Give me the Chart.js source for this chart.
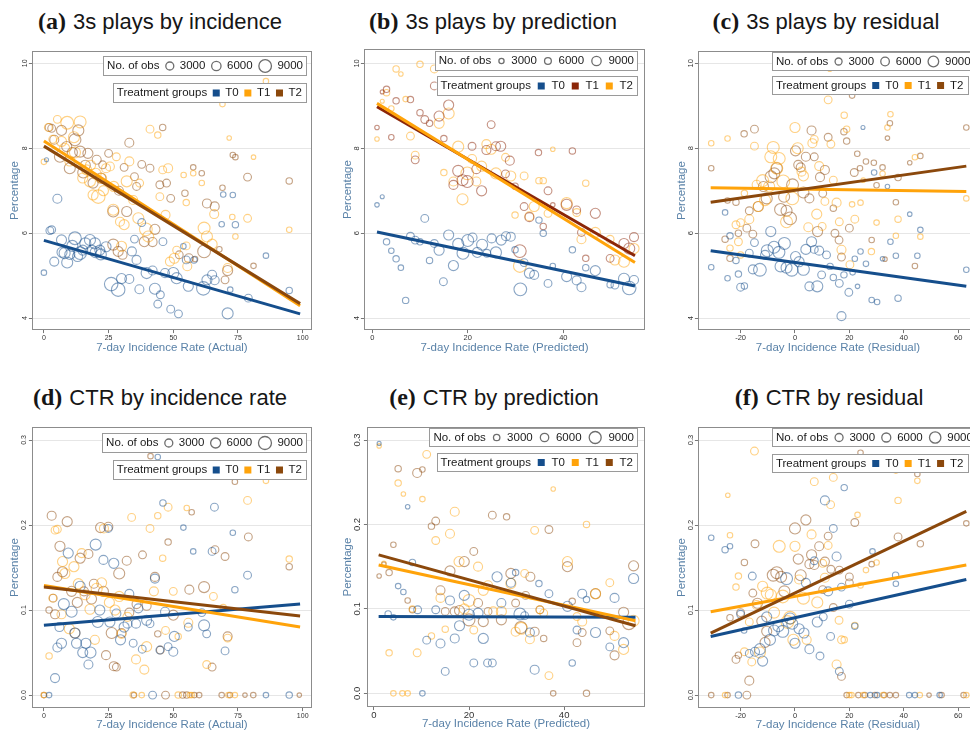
<!DOCTYPE html>
<html><head><meta charset="utf-8">
<script src="https://cdn.jsdelivr.net/npm/chart.js@4"></script>
<style>
html,body{margin:0;padding:0;background:#fff}
body{width:970px;height:734px;overflow:hidden;position:relative}
canvas{position:absolute}
.ttl{position:absolute;transform:translate(-50%,-50%);white-space:nowrap;font-family:'Liberation Sans',sans-serif;font-size:22px;color:#161616;line-height:26px}
.ttl b{font-family:'Liberation Serif',serif;font-weight:bold;font-size:24px;margin-right:7px}
</style></head><body>
<script>
// ---------- tick values / labels ----------
const X_TICKS_ACT = [0,25,50,75,100];
const X_TICKS_PRED = [0,20,40];
const X_TICKS_RES = [-20,0,20,40,60];
const Y_TICKS_PLAYS = [4,6,8,10];
const Y_LABELS_PLAYS = ['4','6','8','10'];
const Y_TICKS_CTR = [0,0.1,0.2,0.3];
const Y_LABELS_CTR = ['0.0','0.1','0.2','0.3'];
const GROUPS = ['T0','T1','T2'];
const OBS_LEGEND = [3000,6000,9000];

// ---------- data: [x, percentage, no. of obs] ----------
const a_T0 = [0,5.07,1500, 1,7.73,800, 5.2,6.81,4000, 2.3,6.06,3000, 3,6.08,3000, 4,5.33,4000, 6.8,5.84,5000, 8,5.53,6000, 9,5.31,6000, 12,5.88,8000, 14,5.53,8000, 16,5.76,6000, 17.8,5.84,6000, 19.7,5.76,6000, 21.6,5.6,5000, 24,5.68,5000, 26,4.8,9000, 28.7,4.67,9000, 30,4.93,5000, 33,4.92,4000, 34,5.57,4000, 35,5.86,3000, 35.8,5.37,4000, 36.9,4.68,4000, 37.8,6.25,3000, 39.7,5.06,6000, 42,5.12,4000, 42.9,4.69,6000, 44,4.33,3000, 45,4.55,3000, 46.8,5.06,4000, 46,5.8,3000, 49,4.21,3000, 50,5.06,6000, 51.3,4.94,6000, 52,4.1,3000, 53.9,5.69,1500, 55,5.37,3000, 55.8,4.75,5000, 58,5.37,2000, 61.6,4.7,9000, 63,4.9,5000, 65,5.02,4000, 66,4.89,4000, 68.7,6.21,1500, 69.3,6.91,1500, 71,4.11,6000, 72,4.67,1500, 74,6.2,2000, 73,6.9,1500, 79,4.47,3000, 85.8,5.47,1500, 94.8,4.65,2000, 10,5.5,5000, 11,5.7,6000, 13,5.45,5000, 15,5.6,5000, 22,5.5,6000, 7,5.55,5000, 18.5,5.6,5000, 20,5.55,6000];
const a_T1 = [0,7.68,1500, 1.7,8.49,3000, 3.4,8.21,3000, 5.2,8.68,3000, 6.8,8.16,5000, 9,8.6,8000, 11.6,8.26,6000, 14,8.62,7000, 16.5,7.49,5000, 17.8,7.22,6000, 19,6.9,5000, 21,6.86,9000, 22.3,7.29,5000, 24,7.53,4000, 25.5,7.57,4000, 26.8,6.55,6000, 28,7.8,3000, 29.4,6.27,4000, 30,5.69,5000, 32,7.22,6000, 33,7.69,4000, 34.5,6.78,4000, 36.5,6.35,6000, 37,7.18,3000, 39.4,6.09,8000, 40.3,5.92,6000, 41,8.45,3000, 44,8.31,2000, 44.8,6.86,3000, 45.9,7.49,3000, 48,7.53,4000, 47,6.43,4000, 48.7,5.33,4000, 50.4,5.41,5000, 51.3,5.6,3000, 54,7.37,1500, 55,6.72,2000, 55,5.7,3000, 55.4,5.22,4000, 57.7,7.41,1500, 61,7.18,1500, 61.9,6.12,7000, 63,5.92,6000, 65,5.74,5000, 65.8,6.45,4000, 69,9.04,1500, 71.6,8.24,1000, 72.8,6.38,1500, 74,5.92,1500, 78.7,6.35,3000, 81,7.79,1000, 85.8,9.58,1500, 94.8,6.08,1500, 71,5.18,4000, 8,8.0,5000, 10,7.7,5000, 12,7.9,6000, 15,7.3,5000, 18,7.6,5000, 20,7.4,6000, 23,7.0,5000, 27,7.1,5000, 31,6.2,5000];
const a_T2 = [2,8.49,3000, 3,8.47,3000, 6.8,8.42,5000, 6.2,7.8,6000, 8.8,8.04,5000, 10,7.53,6000, 12,8.2,7000, 13.3,8.42,6000, 14,7.92,6000, 15.2,7.43,6000, 17,7.88,5000, 19,7.18,5000, 20.4,7.73,4000, 22.7,7.61,3000, 25,7.88,3000, 26.8,6.51,6000, 26.8,5.73,6000, 28.7,5.57,5000, 30.4,5.49,4000, 31,7.55,3000, 32,6.51,5000, 33,8.13,4000, 35,7.33,3000, 35.8,7.1,3000, 37.8,7.62,3000, 38.8,5.8,5000, 41,7.53,3000, 42,5.79,4000, 42.9,6.09,5000, 44.8,7.14,3000, 45.9,8.49,2000, 47.4,7.18,3000, 49,6.82,3000, 52.3,5.49,3000, 54.5,6.94,2000, 56,5.41,4000, 57.7,7.55,1500, 58.4,5.39,1500, 61,7.41,1500, 61.9,5.57,8000, 63,6.7,4000, 66,6.63,4000, 67.8,5.62,1500, 69,7.07,1500, 71,5.12,5000, 70,4.9,3000, 73,7.84,1500, 74,7.79,1500, 78.7,7.32,3000, 81,5.23,1500, 94.8,7.23,2000, 4,8.2,4000, 11,7.9,5000, 16,7.6,5000, 22,7.3,5000, 29,7.0,4000];
const a_fit = [[0,5.83,99,4.1],[0,8.17,99,4.29],[0,8.05,99,4.34]];

const b_T0 = [1,6.67,1000, 2.1,6.86,800, 3,5.8,2000, 4,5.59,1500, 5,5.4,2000, 6,5.19,1500, 7,4.42,2000, 8,5.93,3000, 9,5.84,3000, 10,5.8,2000, 11,6.35,3000, 12,5.36,2000, 13,5.76,3000, 14,5.6,5000, 14.9,4.86,3000, 16,5.96,5000, 17,5.24,5000, 18,5.75,6000, 19,5.53,7000, 20,5.83,7000, 21,5.9,4000, 22,5.55,5000, 23,5.73,6000, 24,5.53,3000, 25,5.88,4000, 25.9,5.55,6000, 27,5.84,5000, 28,5.93,4000, 29,5.92,4000, 29.9,5.61,2000, 31,4.68,8000, 31.8,5.31,3000, 32.9,5.06,5000, 33.9,5.02,4000, 34.9,6.31,2000, 35.8,6.0,2000, 36.8,4.82,3000, 37.8,5.23,1500, 40.7,4.98,5000, 41.9,5.61,2000, 42.8,4.89,4000, 43.8,4.73,4000, 44.7,5.19,2000, 46.7,5.12,5000, 49.8,4.79,2000, 50.8,4.78,3000, 52.7,4.93,6000, 53.8,4.71,9000, 54.8,4.9,4000];
const b_T1 = [1,8.49,1000, 2.1,9.33,800, 3,9.39,2000, 4,8.26,1500, 5,9.12,2000, 8,9.15,2000, 9,7.73,3000, 10,8.84,2000, 11,8.68,3000, 12,8.59,2000, 13,9.47,3000, 14,8.76,5000, 15,8.23,2000, 16,9.02,5000, 17,7.14,4000, 18,7.47,6000, 18.9,7.25,6000, 19.9,7.22,7000, 20.9,8.05,3000, 21.8,7.51,4000, 22.9,7.0,5000, 23.9,7.96,4000, 24.9,8.56,3000, 25.9,8.05,4000, 26.9,8.05,5000, 27.9,7.4,3000, 28.8,7.71,4000, 29.9,7.11,2000, 30.9,5.58,8000, 31.8,6.63,3000, 32.9,6.38,4000, 34.8,7.9,2000, 35.8,6.16,2000, 36.8,7.0,3000, 37.8,6.67,1000, 40.7,6.67,6000, 41.9,7.94,2000, 42.8,6.55,3000, 43.8,6.02,3000, 44.7,5.41,2000, 46.7,6.47,5000, 49.8,5.41,3000, 52.7,5.76,5000, 53.8,5.64,6000, 54.8,5.91,4000];
const b_T2 = [1,8.22,1000, 2.1,9.11,800, 3,9.31,2000, 4,8.94,1500, 5,9.87,2000, 6,9.75,1000, 7,9.16,1500, 8,8.29,3000, 9,7.84,3000, 10,9.98,2000, 13,9.87,3000, 14,8.59,5000, 15,7.43,2000, 16,8.82,6000, 17,7.22,4000, 18,8.04,6000, 18.9,6.8,6000, 19.9,7.41,8000, 20.9,7.75,4000, 21.8,7.22,4000, 22.9,7.58,5000, 23.9,8.1,4000, 24.9,7.98,5000, 25.9,7.41,6000, 27.9,7.79,3000, 29,7.35,5000, 29.9,6.43,2000, 30.9,5.23,8000, 31.8,7.35,3000, 32.9,6.4,4000, 33.9,6.63,5000, 34.9,7.24,2000, 35.8,7.24,2000, 36.8,6.47,3000, 37.8,7.98,1000, 40.7,6.71,6000, 42.8,6.49,3000, 43.8,5.86,4000, 44.7,7.18,2000, 46.7,6.02,5000, 49.8,5.86,3000, 50.8,5.37,5000, 52.7,5.33,6000, 54.8,5.64,5000];
const b_fit = [[1,6.03,55,4.76],[1,8.98,55,5.47],[1,9.06,55,5.31]];

const c_T0 = [-30.8,5.2,1500, -25.7,6.49,1500, -24.8,4.94,1500, -23.9,5.94,2000, -21.7,5.36,2000, -20.8,5.04,2000, -20,4.73,3000, -18.6,4.76,2000, -16.8,5.53,3000, -14.9,5.78,3000, -15.5,5.15,4000, -12.9,5.14,8000, -11,5.49,4000, -10.2,5.59,7000, -8.9,6.04,5000, -7.7,5.67,7000, -5.9,5.55,7000, -5.3,5.22,6000, -3.9,5.76,7000, -3.1,5.19,6000, -1.2,5.14,8000, 0.2,5.45,5000, 1.5,5.33,5000, 3.1,5.15,7000, 4,5.62,5000, 6.1,5.8,5000, 7.1,5.62,3000, 5.3,4.75,4000, 8.2,4.75,6000, 8.9,5.59,4000, 9.8,5.02,3000, 11.6,5.49,3000, 12.9,5.22,2000, 14.1,4.96,2000, 16.3,4.82,3000, 17.1,4.05,4000, 18,5.02,2000, 19.8,4.61,3000, 21.2,5.08,1500, 22,5.4,1500, 23,4.75,1000, 24.1,5.57,1500, 25,8.49,800, 26.1,5.28,1500, 28.2,4.43,1500, 29.1,7.43,1500, 30.2,4.38,1500, 32.2,5.4,1000, 34,7.1,1000, 35.1,5.8,1500, 37.1,5.47,1500, 37.9,4.47,2000, 42.2,6.45,1000, 45,5.47,1500, 46.1,6.08,1500, 63,5.14,1500];
const c_T1 = [-30.8,8.12,1500, -24.8,8.23,1500, -23.9,5.65,2000, -21.7,6.2,3000, -20.8,5.8,3000, -20,6.25,3000, -20,5.49,2000, -18.6,6.94,2000, -16.8,6.33,4000, -14.9,8.05,3000, -14.1,7.14,4000, -13.5,6.63,5000, -11.9,7.24,7000, -11,6.78,6000, -9.5,7.1,6000, -8.9,7.8,7000, -8,8.02,7000, -6.7,7.53,7000, -5.8,7.76,7000, -4.3,7.22,8000, -3.1,6.27,7000, -1,6.82,8000, 0,8.49,5000, 1,8.0,6000, 2.4,7.45,4000, 3.1,7.35,5000, 4.9,6.14,4000, 6.4,8.12,4000, 7.1,8.21,3000, 8,6.45,5000, 8.9,7.58,4000, 10,6.16,3000, 11,6.75,3000, 12.2,9.14,3000, 13.2,8.1,3000, 14.1,7.25,3000, 15.3,6.72,4000, 16.3,6.27,3000, 17.1,5.61,4000, 18.1,8.78,2000, 19,8.45,2000, 20.2,5.26,3000, 21,6.68,1500, 22,6.33,3000, 24.1,6.72,1500, 25.1,7.25,1000, 28.1,5.57,2000, 30,6.25,1500, 32.2,7.4,1500, 34,8.49,1500, 35.1,8.8,1500, 37.1,5.94,1500, 37.9,6.33,2000, 44.1,7.79,1500, 46.1,5.92,1500, 63,6.82,1500, 12.8,9.86,1000];
const c_T2 = [-30.8,7.53,1500, -24.8,6.77,1500, -25.7,5.86,2000, -23.9,5.41,2000, -21.7,6.73,2000, -20.8,6.0,2000, -18.7,8.34,2000, -17.7,6.12,3000, -16.8,6.53,3000, -15.5,5.98,3000, -14.9,8.45,3000, -13.5,6.63,5000, -11.6,7.1,5000, -10.4,6.82,6000, -8.8,7.33,7000, -7.6,7.41,6000, -6.7,7.53,6000, -5.3,6.56,7000, -4,6.86,6000, -3.1,6.53,6000, -1.8,6.35,8000, -0.9,7.14,7000, 0.2,7.94,5000, 1.2,7.61,4000, 2.1,7.55,4000, 3.1,6.96,6000, 4,7.8,4000, 5.3,6.82,4000, 6.1,8.42,4000, 7.1,7.8,3000, 8.3,6.04,5000, 9.2,7.32,4000, 10.2,6.94,3000, 11,7.49,4000, 12.2,8.26,3000, 14.1,6.59,2000, 14.7,6.0,3000, 16.2,5.84,3000, 17.1,5.44,3000, 18,8.39,2000, 19,8.17,2000, 20,6.12,3000, 21,9.24,1500, 21.8,7.43,3000, 22.9,7.87,1500, 23.9,7.53,1500, 26.1,7.69,1500, 28.2,5.84,1500, 29,7.66,1500, 30,7.13,1500, 32.2,7.55,1500, 33.1,5.39,1000, 34,8.24,1000, 34.9,8.59,1500, 37.1,6.73,1500, 37.9,7.31,2000, 42.2,7.66,1000, 44.1,5.23,1500, 46.1,7.82,1500, 63,8.49,1500];
const c_fit = [[-31,5.59,63,4.75],[-31,7.07,63,6.98],[-31,6.73,63,7.58]];

const d_T0 = [2,0,1500, 4.3,0.02,4000, 5.2,0.056,4000, 6,0.08,4000, 6.8,0.061,5000, 7.7,0.107,6000, 9.4,0.167,5000, 10.7,0.098,6000, 12,0.073,5000, 12.6,0.061,5000, 14,0.128,5000, 15,0.05,5000, 16.2,0.061,5000, 17.2,0.036,4000, 18,0.05,6000, 20,0.177,6000, 20.8,0.086,6000, 21.6,0.1,5000, 23,0.159,4000, 25.5,0.086,5000, 24.9,0.196,3000, 27,0.155,5000, 28,0.096,4000, 29.6,0.065,5000, 31,0.08,5000, 32.3,0.084,4000, 33,0.119,4000, 34.5,0.061,3000, 35.6,0.084,4000, 36.5,0.102,4000, 38,0.054,3000, 39.7,0.088,5000, 41,0.084,3000, 42,0,3000, 42.9,0.137,4000, 44,0.28,1500, 44.8,0.053,3000, 46,0.226,2000, 46.8,0.098,4000, 48,0.057,3000, 50,0.051,4000, 50.4,0.069,5000, 53.9,0.197,1500, 55.8,0.08,3000, 57.7,0.169,1500, 61,0.097,3000, 61.9,0.082,6000, 62.9,0.072,3000, 65,0.169,3000, 65.9,0.221,3000, 70,0.052,3000, 73,0.191,1500, 73.8,0.124,2000, 78.7,0.141,3000, 85.8,0,1500, 94.8,0,2000];
const d_T1 = [0,0,1500, 2,0.046,2000, 3.4,0.114,3000, 4.3,0.194,3000, 5.2,0.195,3000, 6.8,0.095,4000, 7.2,0.157,5000, 8.1,0.143,5000, 9.8,0.078,5000, 11.6,0.151,5000, 13.3,0.131,5000, 14.6,0.167,4000, 15.9,0.118,5000, 17.8,0.101,5000, 19.7,0.065,4000, 20.4,0.125,6000, 22.3,0.132,5000, 23.2,0.196,4000, 25.3,0.109,5000, 27.5,0.1,5000, 29.1,0.116,5000, 30,0.072,4000, 32.3,0.092,4000, 33.9,0.209,3000, 35.6,0.042,4000, 37.8,0,1500, 38.8,0.03,4000, 39.7,0.057,5000, 41,0.196,3000, 42.5,0.122,4000, 44,0.211,2000, 45.9,0.161,2000, 47,0.076,3000, 48,0.221,3000, 50,0.122,3000, 51.9,0.069,2000, 55.2,0.22,1500, 55.8,0.085,4000, 56.4,0,1500, 62.9,0.036,3000, 65.5,0.116,3000, 69.3,0.103,2000, 71,0.067,3000, 71.3,0,1500, 73.8,0,1500, 78.7,0.229,3000, 85.8,0.252,1500, 94.8,0.16,2000, 34.5,0,2000, 51.9,0,2000, 57.1,0,1500];
const d_T2 = [0,0,1500, 2,0.1,2000, 3,0.211,4000, 3.6,0.114,3000, 4.3,0.095,4000, 5.2,0.139,4000, 6.2,0.175,5000, 7.2,0.145,5000, 9,0.204,5000, 10.7,0.122,5000, 12,0.073,5000, 12.9,0.109,5000, 14,0.161,5000, 15.5,0.122,4000, 17.2,0.166,4000, 18.4,0.113,5000, 19.3,0.131,4000, 21.9,0.197,5000, 23,0.122,5000, 24,0.047,4000, 24.9,0.198,4000, 26.2,0.073,6000, 27,0.034,4000, 28,0.033,3000, 29.1,0.143,6000, 30,0.073,4000, 32,0.158,4000, 33,0.097,4000, 34.8,0,1500, 35.8,0.107,4000, 38.1,0.165,3000, 39.7,0.105,4000, 41.2,0.281,1500, 42.9,0.139,4000, 44,0.072,2000, 45,0.053,3000, 47,0,3000, 48,0.18,2000, 50,0.094,5000, 56.2,0.124,4000, 57.1,0.215,1500, 61.9,0.127,6000, 65,0.033,3000, 66.1,0.171,3000, 70,0.163,3000, 71,0.069,4000, 73.8,0.251,1500, 79,0.186,3000, 94.8,0.151,2000, 53.6,0,2000, 55.2,0,2000, 58.1,0,1500, 60,0,1500, 68.7,0,1500, 71.9,0,1500, 77.7,0,1000, 80.9,0,1500, 98.7,0,1000];
const d_fit = [[0,0.082,99,0.107],[0,0.129,99,0.080],[0,0.127,99,0.093]];

const e_T0 = [1.1,0.296,800, 3,0.094,2000, 4.1,0.09,1500, 5.1,0.127,1500, 6.2,0.12,1500, 7.1,0.221,1000, 8.1,0.155,2000, 9.2,0.099,3000, 10.2,0,1500, 11.1,0.063,3000, 13,0.099,3000, 14,0.059,4000, 15,0.026,3000, 16,0.11,4000, 17,0.065,4000, 18,0.08,5000, 19,0.116,5000, 20,0.093,6000, 21,0.036,3000, 21.9,0.095,5000, 23,0.065,5000, 23.9,0.036,3000, 24.9,0.036,3000, 25.9,0.138,5000, 26.8,0.107,4000, 28.8,0.131,4000, 29.8,0.143,2000, 30.7,0.094,7000, 31.7,0.092,3000, 32.8,0.072,4000, 33.8,0.028,4000, 34.7,0.13,2000, 36.8,0.118,3000, 40.7,0.103,5000, 41.7,0.036,2000, 42.7,0.075,3000, 43.8,0.118,4000, 44.7,0.111,2000, 46.6,0.072,5000, 49.6,0.055,3000, 50.6,0.113,4000, 52.5,0.06,5000, 54.6,0.136,5000];
const e_T1 = [1.1,0.293,1000, 2.1,0.154,1000, 3.2,0.048,2000, 4.1,0,1500, 5.1,0.249,2000, 6,0,1500, 6.2,0.236,1000, 7.1,0,1500, 8.1,0.1,2000, 9.1,0.048,3000, 10.2,0.23,1500, 11.1,0.283,3000, 12.1,0.068,2000, 13,0.181,3000, 14,0.113,4000, 15,0.076,2000, 16,0.189,4000, 17,0.215,4000, 17.9,0.156,5000, 19,0.1,5000, 20,0.11,7000, 21,0.075,3000, 21.9,0.15,4000, 23,0.122,5000, 24,0.128,4000, 25.1,0.097,4000, 26.8,0.097,5000, 28.8,0.13,5000, 29.8,0.073,4000, 31,0.077,7000, 31.7,0.142,3000, 32.8,0.064,4000, 33.8,0.193,3000, 34.9,0.099,3000, 35.7,0.095,3000, 36.8,0.021,3000, 37.7,0.242,1000, 40.7,0.156,5000, 42.7,0.091,3000, 43.8,0.085,4000, 44.7,0.2,2000, 46.6,0.118,5000, 49.6,0.131,3000, 50.6,0.068,4000, 52.5,0.052,5000, 54.6,0.086,6000];
const e_T2 = [1.1,0.139,1000, 2.1,0.153,1000, 3.2,0.143,2000, 4.1,0.176,1500, 5.1,0.266,2000, 7.1,0.11,1500, 8.1,0.099,2000, 9.1,0.261,4000, 10.2,0.265,1500, 12.1,0.198,2000, 13,0.204,3000, 14,0.122,4000, 15,0.097,3000, 16,0.145,5000, 17,0.097,4000, 18,0.098,5000, 19,0.156,5000, 20,0.087,7000, 21,0.168,3000, 21.9,0.107,4000, 23,0.085,5000, 24,0.097,3000, 24.9,0.211,3000, 26.8,0.087,5000, 27.9,0.209,2000, 28.8,0.142,5000, 29.8,0.107,3000, 30.9,0.078,7000, 31.9,0.116,3000, 32.9,0.138,4000, 33.8,0.073,4000, 34.9,0.099,3000, 35.7,0.065,2000, 36.8,0.194,3000, 37.7,0,1500, 40.7,0.15,5000, 41.7,0.109,2000, 42.7,0.06,3000, 43.8,0.072,3000, 44.7,0,2000, 46.6,0.118,5000, 49.6,0.074,3000, 50.6,0.045,4000, 52.5,0.096,5000, 53.6,0.083,8000, 54.6,0.151,5000];
const e_fit = [[1,0.091,55,0.090],[1,0.152,55,0.086],[1,0.164,55,0.080]];

const f_T0 = [-30.8,0.185,1500, -25.7,0.171,2000, -23.9,0.175,1500, -20.8,0,2000, -20,0.095,3000, -18.7,0.076,1500, -16.8,0.049,3000, -15.7,0.14,3000, -14.7,0.051,4000, -12.9,0.054,6000, -11.9,0.04,5000, -10.4,0.092,5000, -9.2,0.065,6000, -7.7,0.076,6000, -6.1,0.081,6000, -4.5,0.075,7000, -3.1,0.137,7000, -1.8,0.09,6000, -1,0.084,6000, 0,0.061,5000, 1.5,0.078,5000, 3.3,0.073,5000, 4,0.132,4000, 5.3,0.054,4000, 7.1,0.158,3000, 8.2,0.086,5000, 9.2,0.046,3000, 10.4,0.092,3000, 11,0.229,4000, 12.2,0.122,4000, 13.1,0.069,3000, 14.1,0.196,3000, 15.3,0.163,4000, 16.3,0.028,3000, 17.1,0.127,3000, 18.1,0.244,2000, 20,0.107,3000, 22,0.081,2000, 28.5,0.169,1500, 37,0.141,2000, 37.1,0.131,1500, 42,0,1500, 44.1,0,1500, 53.2,0,1500, 30.2,0,1500, 27.7,0,1500];
const f_T1 = [-24.7,0.235,1000, -23.9,0.188,1500, -21.7,0.127,2000, -20.8,0.14,2000, -25.7,0,1500, -18.6,0.051,3000, -16.8,0.086,3000, -15.9,0.039,3000, -14.9,0.287,3000, -14.1,0.106,4000, -12.9,0.05,6000, -11.9,0.128,5000, -10.2,0.12,7000, -8.9,0.118,6000, -7.7,0.097,6000, -5.8,0.175,7000, -4.5,0.116,8000, -2.8,0.086,8000, -1.8,0.091,8000, -0.6,0.065,6000, 0,0.175,5000, 1.5,0.136,4000, 3.1,0.114,7000, 4.3,0.065,4000, 6.1,0.189,4000, 7.1,0.251,3000, 8.2,0.109,6000, 10.2,0.155,3000, 11,0.138,4000, 12.2,0.176,3000, 13.1,0.224,3000, 14.1,0.256,3000, 15.3,0.036,4000, 16.2,0.088,3000, 17.1,0.065,3000, 18.1,0.065,2000, 20,0,1500, 22,0.082,2000, 23,0.212,1500, 24.1,0.129,1500, 26.1,0.147,1500, 30,0.156,1500, 37.1,0.264,1500, 37.9,0.229,2000, 45,0.252,1500, 63,0,1500, 20.8,0,1500, 25.1,0,1500, 32.4,0,1500, 45.9,0,1500];
const f_T2 = [-30.8,0,1500, -24.8,0,1500, -23.9,0.091,2000, -21.7,0.042,3000, -20.8,0.047,2000, -20,0.097,3000, -18.6,0.156,2000, -17.7,0,3000, -16.8,0.017,4000, -15.5,0.12,3000, -14.7,0.178,3000, -13.8,0.108,5000, -12.2,0.087,5000, -11,0.062,5000, -10.4,0.075,5000, -8,0.141,7000, -6.7,0.144,7000, -5.1,0.139,6000, -3.9,0.122,6000, 0,0.196,6000, 1.2,0.16,5000, 2.1,0.141,6000, 4,0.206,5000, 5.3,0.154,4000, 6.1,0.165,5000, 7.1,0.153,4000, 8.9,0.175,4000, 10.2,0.124,3000, 11,0.157,4000, 12.2,0.187,3000, 13.2,0.148,3000, 14.1,0.103,3000, 16.3,0.147,3000, 17.1,0.022,3000, 20,0.139,3000, 20,0.132,3000, 22,0.203,3000, 24.1,0.285,1500, 28.2,0.154,1500, 37.9,0.186,3000, 45,0.26,1500, 46.1,0.178,2000, 53.9,0,1500, 62,0,1500, 63,0.202,1500, 19,0,1500, 23.3,0,1500, 25.7,0,1500, 29.4,0,1500, 32.8,0,1500, 34.9,0,1500, 37.1,0,1500, 49.3,0,1000];
const f_fit = [[-31,0.069,63,0.136],[-31,0.098,63,0.153],[-31,0.073,63,0.216]];

// ---------- styling ----------
const BLUE = [21,78,140], ORANGE = [255,163,10], BROWN = [139,72,12], DARKRED = [139,38,8];
const TITLE_COLOR = '#5a82a8';
const R0 = 3.9;
const rgba = (c,a) => `rgba(${c[0]},${c[1]},${c[2]},${a})`;

const PANELS = [
 {lab:'(a)', title:'3s plays by incidence', tx:160, ty:21, box:[32,51,312,330], xr:[-4.64,103.6], yr:[3.717,10.29],
  xt:X_TICKS_ACT, xl:X_TICKS_ACT.map(String), yt:Y_TICKS_PLAYS, yl:Y_LABELS_PLAYS, xlab:'7-day Incidence Rate (Actual)',
  ytx:15, xty:348, tick:7, ylo:7, xlo:8, ser:[a_T0,a_T1,a_T2], fit:a_fit, col:[BLUE,ORANGE,BROWN],
  leg:{dx:6, dy1:5, dy2:32, h:19, rs:[4,4.7,6.3], g:7}},
 {lab:'(b)', title:'3s plays by prediction', tx:493, ty:21, box:[364,49,645,330], xr:[-1.74,57.1], yr:[3.72,10.34],
  xt:X_TICKS_PRED, xl:X_TICKS_PRED.map(String), yt:Y_TICKS_PLAYS, yl:Y_LABELS_PLAYS, xlab:'7-day Incidence Rate (Predicted)',
  ytx:348, xty:348, tick:7.5, ylo:7.3, xlo:7.7, ser:[b_T0,b_T1,b_T2], fit:b_fit, col:[BLUE,DARKRED,ORANGE],
  leg:{dx:8, dy1:2, dy2:27, h:19, rs:[2.6,3.4,4.7], g:8.5}},
 {lab:'(c)', title:'3s plays by residual', tx:826, ty:21, box:[698,51,978,330], xr:[-35.7,67.3], yr:[3.72,10.29],
  xt:X_TICKS_RES, xl:X_TICKS_RES.map(String), yt:Y_TICKS_PLAYS, yl:Y_LABELS_PLAYS, xlab:'7-day Incidence Rate (Residual)',
  ytx:682, xty:348, tick:7.5, ylo:7.3, xlo:8, ser:[c_T0,c_T1,c_T2], fit:c_fit, col:[BLUE,ORANGE,BROWN],
  leg:{left:772, dy1:1, dy2:25, h:18, rs:[3.5,4.3,5.3], g:7.5}},
 {lab:'(d)', title:'CTR by incidence rate', tx:160, ty:397, box:[32,427,312,708], xr:[-4.64,103.6], yr:[-0.0153,0.3153],
  xt:X_TICKS_ACT, xl:X_TICKS_ACT.map(String), yt:Y_TICKS_CTR, yl:Y_LABELS_CTR, xlab:'7-day Incidence Rate (Actual)',
  ytx:15, xty:725, tick:7, ylo:8, xlo:7.5, ser:[d_T0,d_T1,d_T2], fit:d_fit, col:[BLUE,ORANGE,BROWN],
  leg:{dx:6, dy1:6, dy2:33, h:19, rs:[4,5,6.5], g:7}},
 {lab:'(e)', title:'CTR by prediction', tx:494, ty:397, box:[367,427,645,707], xr:[-1.47,57.0], yr:[-0.0163,0.3154],
  xt:X_TICKS_PRED, xl:X_TICKS_PRED.map(String), yt:Y_TICKS_CTR, yl:Y_LABELS_CTR, xlab:'7-day Incidence Rate (Predicted)',
  ytx:348, xty:724, tick:9.5, ylo:9.7, xlo:8.5, ser:[e_T0,e_T1,e_T2], fit:e_fit, col:[BLUE,ORANGE,BROWN],
  leg:{dx:8, dy1:1, dy2:26, h:18, rs:[3.2,4.2,6], g:8.5}},
 {lab:'(f)', title:'CTR by residual', tx:829, ty:397, box:[698,427,978,708], xr:[-35.7,67.3], yr:[-0.0153,0.3153],
  xt:X_TICKS_RES, xl:X_TICKS_RES.map(String), yt:Y_TICKS_CTR, yl:Y_LABELS_CTR, xlab:'7-day Incidence Rate (Residual)',
  ytx:682, xty:725, tick:7.5, ylo:7.3, xlo:7.5, ser:[f_T0,f_T1,f_T2], fit:f_fit, col:[BLUE,ORANGE,BROWN],
  leg:{left:772, dy1:1, dy2:27, h:18, rs:[4,4.5,5.7], g:7.5}}
];

function toPts(arr){ const out=[]; for(let i=0;i<arr.length;i+=3) out.push({x:arr[i], y:arr[i+1], r:R0*Math.sqrt(arr[i+2]/3000)}); return out; }

const LFONT = '11.5px "Liberation Sans", Arial, sans-serif';

function drawLegend(ctx, p, area, cl, ct){
  const L = p.leg;
  ctx.save();
  ctx.font = LFONT; ctx.textBaseline = 'middle'; ctx.textAlign = 'left';
  const g = L.g;
  const tw1 = ctx.measureText('No. of obs').width;
  let w1 = 4 + tw1;
  OBS_LEGEND.forEach((n,i)=>{ w1 += g*0.9 + 2*L.rs[i] + g*0.85 + ctx.measureText(String(n)).width; });
  w1 += 3;
  const tw2 = ctx.measureText('Treatment groups').width;
  let w2 = 4 + tw2;
  GROUPS.forEach(t=>{ w2 += g*0.8 + 7 + g*0.8 + ctx.measureText(t).width; });
  w2 += 4;
  let left1, left2;
  if (L.left !== undefined){ left1 = L.left - cl; left2 = L.left - cl; }
  else { const right1 = area.right - L.dx; left1 = right1 - w1; left2 = right1 - w2; }
  const rows = [[left1, area.top + L.dy1, w1],[left2, area.top + L.dy2, w2]];
  rows.forEach(([x,y,w])=>{
    ctx.fillStyle = '#fff'; ctx.fillRect(x, y, w, L.h);
    ctx.strokeStyle = '#9a9a9a'; ctx.lineWidth = 1; ctx.strokeRect(Math.round(x)+0.5, Math.round(y)+0.5, Math.round(w), L.h);
  });
  let x = left1 + 4, cy = area.top + L.dy1 + L.h/2 + 0.5;
  ctx.fillStyle = '#1a1a1a'; ctx.fillText('No. of obs', x, cy); x += tw1;
  OBS_LEGEND.forEach((n,i)=>{
    const r = L.rs[i];
    x += g*0.9;
    ctx.beginPath(); ctx.arc(x + r, cy, r, 0, Math.PI*2); ctx.strokeStyle = '#6e6e6e'; ctx.lineWidth = 1.3; ctx.stroke();
    x += 2*r + g*0.85;
    ctx.fillStyle = '#1a1a1a'; ctx.fillText(String(n), x, cy); x += ctx.measureText(String(n)).width;
  });
  x = left2 + 4; cy = area.top + L.dy2 + L.h/2 + 0.5;
  ctx.fillStyle = '#1a1a1a'; ctx.fillText('Treatment groups', x, cy); x += tw2;
  GROUPS.forEach((t,i)=>{
    x += g*0.8;
    ctx.fillStyle = rgba(p.col[i],1); ctx.fillRect(x, cy - 3.5, 7, 7);
    x += 7 + g*0.8;
    ctx.fillStyle = '#1a1a1a'; ctx.fillText(t, x, cy); x += ctx.measureText(t).width;
  });
  ctx.restore();
}

PANELS.forEach((p, idx) => {
  const [bl, bt, br, bb] = p.box;
  const cl = p.ytx - 6.9;
  const yw = bl - cl;
  const scaleBottom = p.xty + 6.9;
  const xh = scaleBottom - bb;
  const ct = bt - 10;
  const W = Math.ceil(br + 10 - cl), H = Math.ceil(scaleBottom - ct);
  const cv = document.createElement('canvas');
  cv.width = W; cv.height = H;
  cv.style.left = cl + 'px'; cv.style.top = ct + 'px';
  cv.style.width = W + 'px'; cv.style.height = H + 'px';
  document.body.appendChild(cv);

  const t = document.createElement('div');
  t.className = 'ttl'; t.style.left = p.tx + 'px'; t.style.top = p.ty + 'px';
  const b = document.createElement('b'); b.textContent = p.lab; t.appendChild(b);
  t.appendChild(document.createTextNode(p.title));
  document.body.appendChild(t);

  const datasets = [];
  p.ser.forEach((s,i)=>{
    datasets.push({type:'bubble', label:GROUPS[i], data:toPts(s), backgroundColor:'rgba(0,0,0,0)',
      borderColor:rgba(p.col[i],0.5), borderWidth:1.1, order:5});
  });
  p.fit.forEach((f,i)=>{
    datasets.push({type:'line', label:GROUPS[i]+' fit', data:[{x:f[0],y:f[1]},{x:f[2],y:f[3]}],
      borderColor:rgba(p.col[i],1), borderWidth:3, pointRadius:0, fill:false, tension:0, order:1-i*0.1});
  });

  const deco = {
    id:'deco'+idx,
    afterDraw(chart){
      const ctx = chart.ctx, area = chart.chartArea;
      const xs = chart.scales.x, ys = chart.scales.y;
      ctx.save();
      ctx.strokeStyle = '#8c8c8c'; ctx.lineWidth = 1;
      ctx.strokeRect(Math.round(area.left)+0.5, Math.round(area.top)+0.5, Math.round(area.right-area.left)-1, Math.round(area.bottom-area.top)-1);
      ctx.fillStyle = '#333';
      ctx.font = p.tick + 'px "Liberation Sans", Arial, sans-serif';
      ctx.textAlign = 'center'; ctx.textBaseline = 'middle';
      p.xt.forEach((v,i)=> ctx.fillText(p.xl[i], xs.getPixelForValue(v), area.bottom + p.xlo));
      p.yt.forEach((v,i)=>{
        ctx.save(); ctx.translate(area.left - p.ylo, ys.getPixelForValue(v)); ctx.rotate(-Math.PI/2);
        ctx.fillText(p.yl[i], 0, 0); ctx.restore();
      });
      ctx.restore();
      drawLegend(ctx, p, area, cl, ct);
    }
  };

  new Chart(cv, {
    type:'bubble',
    data:{datasets},
    options:{
      responsive:false, animation:false, devicePixelRatio:1, events:[],
      layout:{padding:{left:0, top:10, right:10, bottom:0}},
      plugins:{legend:{display:false}, tooltip:{enabled:false}, title:{display:false}},
      scales:{
        x:{type:'linear', min:p.xr[0], max:p.xr[1],
          afterBuildTicks:s=>{ s.ticks = p.xt.map(v=>({value:v})); },
          afterFit:s=>{ s.height = xh; },
          ticks:{display:false},
          grid:{drawOnChartArea:false, drawTicks:true, tickLength:3, tickColor:'#777', color:'rgba(0,0,0,0)'},
          border:{display:false},
          title:{display:true, text:p.xlab, color:TITLE_COLOR, font:{family:'"Liberation Sans", Arial, sans-serif', size:11.5, lineHeight:1.2}, padding:0}},
        y:{type:'linear', min:p.yr[0], max:p.yr[1],
          afterBuildTicks:s=>{ s.ticks = p.yt.map(v=>({value:v})); },
          afterFit:s=>{ s.width = yw; },
          ticks:{display:false},
          grid:{drawOnChartArea:true, drawTicks:true, tickLength:3, tickColor:'#777', color:'#e6e6e6', lineWidth:1},
          border:{display:false},
          title:{display:true, text:'Percentage', color:TITLE_COLOR, font:{family:'"Liberation Sans", Arial, sans-serif', size:11.5, lineHeight:1.2}, padding:0}}
      }
    },
    plugins:[deco]
  });
});
</script>
</body></html>
